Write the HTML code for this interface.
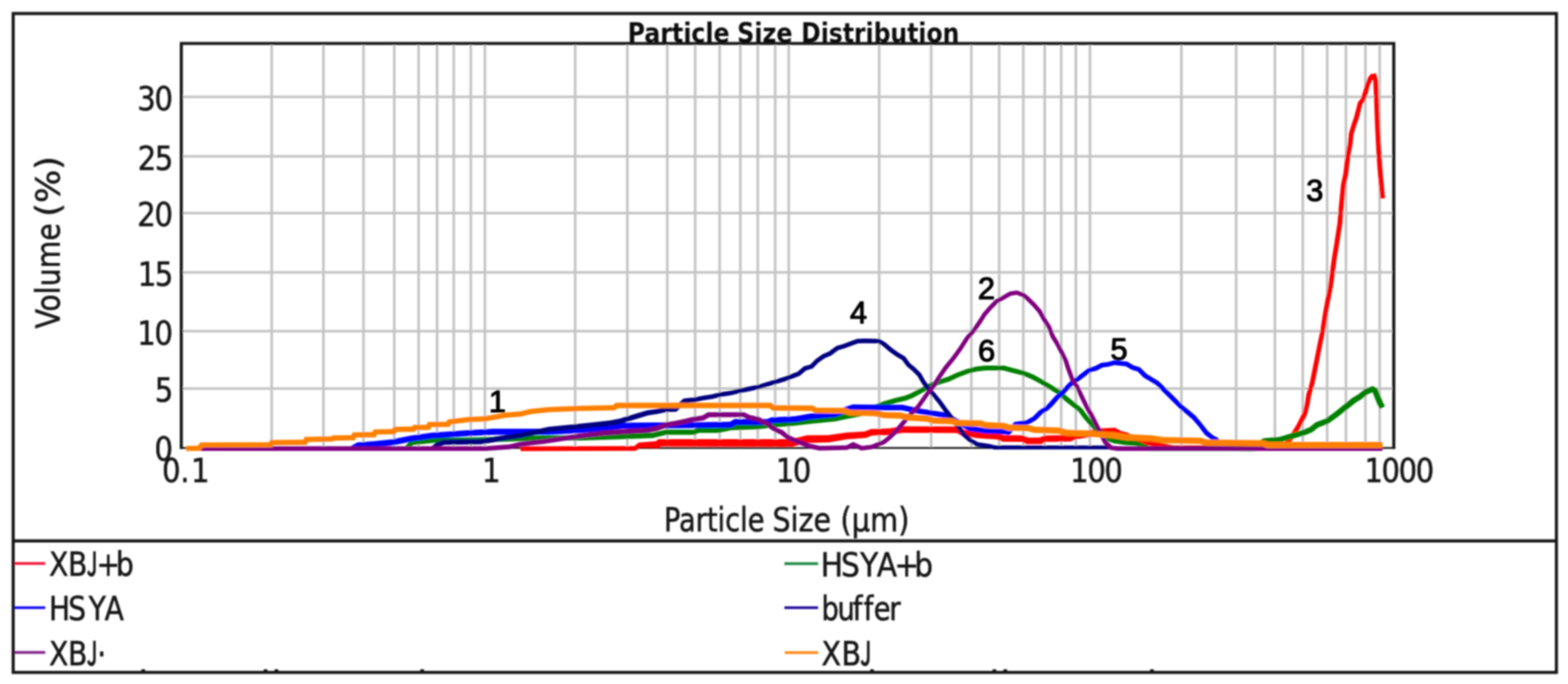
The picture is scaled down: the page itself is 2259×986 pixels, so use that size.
<!DOCTYPE html>
<html lang="en"><head><meta charset="utf-8">
<title>Particle Size Distribution</title>
<style>
html,body{margin:0;padding:0;background:#fff;}
body{width:2259px;height:986px;overflow:hidden;}
svg{display:block;}
.t{font-family:"DejaVu Sans Condensed","DejaVu Sans","Liberation Sans",sans-serif;font-stretch:condensed;fill:#161616;stroke:#161616;stroke-width:0.7px;}
.tb{font-family:"DejaVu Sans Condensed","DejaVu Sans","Liberation Sans",sans-serif;font-stretch:condensed;font-weight:bold;fill:#0c0c0c;}
.n{font-family:"Liberation Sans",sans-serif;font-weight:normal;fill:#050505;stroke:#050505;stroke-width:1.5px;stroke-linejoin:round;}
.c{fill:none;stroke-linejoin:round;stroke-linecap:butt;}
</style></head><body>
<svg width="2259" height="986" viewBox="0 0 2259 986">
<defs><filter id="soft" x="0" y="0" width="2259" height="986" filterUnits="userSpaceOnUse"><feGaussianBlur stdDeviation="1.15"/></filter></defs>
<rect x="0" y="0" width="2259" height="986" fill="#ffffff"/>
<g filter="url(#soft)">
<g stroke="#c5c5c5" stroke-width="3.8" fill="none">
<line x1="391.4" y1="62.6" x2="391.4" y2="645.6"/>
<line x1="466.0" y1="62.6" x2="466.0" y2="645.6"/>
<line x1="523.7" y1="62.6" x2="523.7" y2="645.6"/>
<line x1="568.0" y1="62.6" x2="568.0" y2="645.6"/>
<line x1="603.1" y1="62.6" x2="603.1" y2="645.6"/>
<line x1="629.7" y1="62.6" x2="629.7" y2="645.6"/>
<line x1="653.7" y1="62.6" x2="653.7" y2="645.6"/>
<line x1="678.3" y1="62.6" x2="678.3" y2="645.6"/>
<line x1="698.6" y1="62.6" x2="698.6" y2="645.6"/>
<line x1="828.6" y1="62.6" x2="828.6" y2="645.6"/>
<line x1="903.8" y1="62.6" x2="903.8" y2="645.6"/>
<line x1="961.4" y1="62.6" x2="961.4" y2="645.6"/>
<line x1="1001.5" y1="62.6" x2="1001.5" y2="645.6"/>
<line x1="1036.8" y1="62.6" x2="1036.8" y2="645.6"/>
<line x1="1066.6" y1="62.6" x2="1066.6" y2="645.6"/>
<line x1="1091.7" y1="62.6" x2="1091.7" y2="645.6"/>
<line x1="1116.8" y1="62.6" x2="1116.8" y2="645.6"/>
<line x1="1136.3" y1="62.6" x2="1136.3" y2="645.6"/>
<line x1="1266.6" y1="62.6" x2="1266.6" y2="645.6"/>
<line x1="1341.5" y1="62.6" x2="1341.5" y2="645.6"/>
<line x1="1399.4" y1="62.6" x2="1399.4" y2="645.6"/>
<line x1="1439.5" y1="62.6" x2="1439.5" y2="645.6"/>
<line x1="1474.3" y1="62.6" x2="1474.3" y2="645.6"/>
<line x1="1505.1" y1="62.6" x2="1505.1" y2="645.6"/>
<line x1="1528.9" y1="62.6" x2="1528.9" y2="645.6"/>
<line x1="1550.0" y1="62.6" x2="1550.0" y2="645.6"/>
<line x1="1570.3" y1="62.6" x2="1570.3" y2="645.6"/>
<line x1="1702.0" y1="62.6" x2="1702.0" y2="645.6"/>
<line x1="1780.9" y1="62.6" x2="1780.9" y2="645.6"/>
<line x1="1836.8" y1="62.6" x2="1836.8" y2="645.6"/>
<line x1="1876.9" y1="62.6" x2="1876.9" y2="645.6"/>
<line x1="1912.0" y1="62.6" x2="1912.0" y2="645.6"/>
<line x1="1939.1" y1="62.6" x2="1939.1" y2="645.6"/>
<line x1="1967.1" y1="62.6" x2="1967.1" y2="645.6"/>
<line x1="1987.7" y1="62.6" x2="1987.7" y2="645.6"/>
<line x1="261.2" y1="139.7" x2="2008.0" y2="139.7"/>
<line x1="261.2" y1="225.4" x2="2008.0" y2="225.4"/>
<line x1="261.2" y1="307.1" x2="2008.0" y2="307.1"/>
<line x1="261.2" y1="392.6" x2="2008.0" y2="392.6"/>
<line x1="261.2" y1="477.3" x2="2008.0" y2="477.3"/>
<line x1="261.2" y1="560.1" x2="2008.0" y2="560.1"/>
</g>
<line x1="259.0" y1="645.8" x2="2010.2" y2="645.8" stroke="#101010" stroke-width="2.6"/>
<text class="tb" aria-label="Particle Size Distribution" y="61.4" font-size="38.6"><tspan x="904.26" textLength="146.86" lengthAdjust="spacingAndGlyphs">Particle</tspan> <tspan x="1061.91" textLength="80.03" lengthAdjust="spacingAndGlyphs">Size</tspan> <tspan x="1154.36" textLength="227.69" lengthAdjust="spacingAndGlyphs">Distribution</tspan></text>
<path d="M261.2,647.2 L261.2,62.6 L2008.0,62.6 L2008.0,647.2" stroke="#161616" fill="none" stroke-width="4.4" stroke-linejoin="miter"/>
<g fill="#ff0000" stroke="#ff0000">
<path d="M750.0,650.2 L916.2,649.8 L922.5,645.3 L948.0,645.9 L952.0,643.5 L1140.9,643.9 L1163.9,638.4 L1194.0,637.7 L1220.7,633.3 L1247.9,631.3 L1256.7,627.8 L1282.8,626.9 L1300.5,624.0 L1378.5,624.2 L1386.0,628.6 L1409.5,631.7 L1435.6,633.6 L1444.7,636.7 L1471.4,637.0 L1479.3,640.2 L1500.1,640.2 L1506.6,637.1 L1541.9,636.4 L1550.3,633.2 L1588.0,626.9 L1604.2,626.0 L1612.7,630.0 L1621.7,631.4 L1629.9,635.4 L1639.5,640.8 L1658.0,642.6 L1666.6,644.2 L1689.6,649.0 L1846.1,648.9 L1857.5,640.4 L1864.9,630.3 L1873.8,615.9 L1883.0,597.7 L1886.7,583.0 L1888.9,569.8 L1893.6,553.7 L1897.7,533.7 L1901.5,513.8 L1905.5,493.8 L1908.8,477.8 L1911.6,460.4 L1913.7,446.6 L1916.2,433.5 L1920.2,413.6 L1922.9,393.6 L1925.6,373.6 L1928.9,353.7 L1931.5,336.4 L1933.7,322.4 L1934.9,306.6 L1936.8,286.7 L1938.8,266.9 L1942.2,251.1 L1944.2,233.6 L1946.1,220.5 L1948.6,207.5 L1950.0,193.6 L1953.9,180.7 L1957.3,171.3 L1960.0,160.5 L1962.5,150.6 L1966.3,145.4 L1970.5,134.1 L1973.2,123.6 L1976.3,116.2 L1978.5,113.1 L1977.4,113.2 L1978.4,116.6 L1979.0,128.2 L1979.9,150.1 L1980.9,178.1 L1982.0,200.2 L1983.0,220.2 L1984.4,240.3 L1985.9,258.3 L1987.2,272.3 L1988.6,286.3 L1995.4,285.7 L1994.0,271.7 L1992.7,257.7 L1991.2,239.7 L1989.8,219.8 L1988.8,199.8 L1987.7,177.9 L1986.7,149.9 L1985.8,127.8 L1985.2,115.4 L1982.4,105.8 L1974.7,106.7 L1970.3,112.8 L1966.8,121.4 L1964.1,132.1 L1960.3,142.2 L1956.3,147.6 L1953.4,158.9 L1950.7,169.3 L1947.5,178.5 L1943.4,192.2 L1941.8,206.5 L1939.3,219.3 L1937.4,232.8 L1935.4,249.9 L1932.0,265.9 L1930.0,286.1 L1928.1,306.0 L1926.9,321.6 L1924.7,335.4 L1922.1,352.7 L1918.8,372.6 L1916.1,392.6 L1913.4,412.4 L1909.6,432.3 L1907.1,445.4 L1904.8,459.4 L1902.2,476.6 L1898.9,492.4 L1894.9,512.4 L1890.9,532.3 L1887.0,552.1 L1882.1,568.2 L1879.9,581.6 L1876.4,595.3 L1867.8,612.5 L1859.1,626.5 L1852.5,635.6 L1843.9,642.1 L1690.4,642.0 L1668.0,637.4 L1659.0,635.6 L1641.9,633.8 L1633.7,628.6 L1624.3,623.6 L1615.5,621.6 L1606.2,616.6 L1587.0,617.5 L1547.7,624.0 L1540.1,627.0 L1504.4,627.7 L1497.9,630.8 L1481.1,630.8 L1473.4,627.6 L1446.3,627.3 L1437.6,624.2 L1410.5,622.3 L1389.2,619.4 L1381.1,614.8 L1299.7,614.4 L1281.8,617.5 L1254.7,618.4 L1245.7,621.9 L1219.7,623.5 L1193.2,627.3 L1162.5,627.6 L1139.7,632.9 L948.8,632.9 L944.8,635.9 L919.9,637.9 L913.8,643.0 L750.0,643.4Z" stroke="none"/>
<path class="c" stroke-width="5.58" d="M750.0,646.8 L915.0,646.4 L921.2,641.6 L946.4,640.9 L950.4,638.2 L1140.3,638.4 L1163.2,633.0 L1193.6,632.5 L1220.2,628.4 L1246.8,626.6 L1255.7,623.1 L1282.3,622.2 L1300.1,619.2 L1379.8,619.5 L1387.6,624.0 L1410.0,627.0 L1436.6,628.9 L1445.5,632.0 L1472.4,632.3 L1480.2,635.5 L1499.0,635.5 L1505.5,632.4 L1541.0,631.7 L1549.0,628.6 L1587.5,622.2 L1605.2,621.3 L1614.1,625.8 L1623.0,627.5 L1631.8,632.0 L1640.7,637.3 L1658.5,639.1 L1667.3,640.8 L1690.0,645.5 L1845.0,645.5 L1855.0,638.0 L1862.0,628.4 L1870.8,614.2 L1879.7,596.5 L1883.3,582.3 L1885.5,569.0 L1890.3,552.9 L1894.3,533.0 L1898.2,513.1 L1902.2,493.1 L1905.5,477.2 L1908.2,459.9 L1910.4,446.0 L1912.9,432.9 L1916.8,413.0 L1919.5,393.1 L1922.2,373.1 L1925.5,353.2 L1928.1,335.9 L1930.3,322.0 L1931.5,306.3 L1933.4,286.4 L1935.4,266.4 L1938.8,250.5 L1940.8,233.2 L1942.7,219.9 L1945.2,207.0 L1946.7,192.9 L1950.7,179.6 L1954.0,170.3 L1956.7,159.7 L1959.4,149.1 L1963.3,143.8 L1967.3,133.1 L1970.0,122.5 L1973.3,114.5 L1976.6,109.9 L1979.9,109.5 L1981.8,116.0 L1982.4,128.0 L1983.3,150.0 L1984.3,178.0 L1985.4,200.0 L1986.4,220.0 L1987.8,240.0 L1989.3,258.0 L1990.6,272.0 L1992.0,286.0"/>
</g>
<g fill="#008000" stroke="#008000">
<path d="M588.9,648.9 L594.9,641.6 L631.0,637.8 L639.8,638.7 L693.3,637.8 L750.1,636.0 L782.1,635.1 L835.3,635.1 L886.7,633.4 L940.3,631.4 L960.1,626.8 L1000.3,626.8 L1006.9,624.1 L1035.8,624.1 L1053.2,620.2 L1092.9,618.8 L1112.9,616.2 L1146.1,613.5 L1167.4,610.9 L1203.1,607.4 L1220.9,603.7 L1239.1,600.2 L1274.6,585.8 L1292.1,580.4 L1305.0,577.4 L1314.8,573.7 L1328.3,566.4 L1341.4,559.1 L1354.3,553.9 L1367.6,549.9 L1381.0,543.7 L1394.1,538.8 L1407.0,535.4 L1419.8,533.9 L1445.6,533.9 L1457.6,537.2 L1472.9,541.1 L1486.5,546.7 L1499.1,553.5 L1512.7,561.8 L1523.5,568.3 L1534.2,577.9 L1545.4,586.7 L1554.0,593.6 L1560.3,602.2 L1568.4,611.8 L1576.2,620.4 L1595.9,636.0 L1604.4,638.9 L1622.6,641.7 L1636.4,642.6 L1646.7,646.8 L1655.3,650.2 L1807.3,650.4 L1815.2,644.0 L1822.5,639.2 L1844.9,637.6 L1863.2,632.3 L1881.1,627.0 L1890.7,623.1 L1899.6,616.0 L1913.7,610.8 L1926.6,601.6 L1935.5,594.4 L1944.4,587.4 L1953.1,580.4 L1962.0,575.0 L1970.6,568.2 L1977.1,565.6 L1977.6,565.8 L1980.5,573.2 L1984.2,582.2 L1987.7,589.5 L1995.3,585.7 L1991.8,578.8 L1988.3,570.0 L1984.2,559.8 L1977.5,556.4 L1966.4,560.8 L1957.2,568.2 L1948.3,573.6 L1939.2,580.8 L1930.3,588.0 L1921.6,595.0 L1909.7,603.4 L1895.4,608.8 L1886.5,615.9 L1878.3,619.2 L1860.8,624.5 L1843.5,629.8 L1819.9,631.8 L1810.8,638.0 L1804.7,643.1 L1656.7,643.2 L1649.3,640.2 L1638.0,635.6 L1623.4,634.7 L1606.0,632.1 L1599.3,629.8 L1581.0,615.2 L1573.6,607.2 L1565.7,597.8 L1559.0,588.8 L1549.8,581.3 L1538.8,572.5 L1527.7,562.7 L1516.3,555.8 L1502.5,547.5 L1489.5,540.3 L1475.1,534.5 L1459.4,530.4 L1446.6,526.9 L1419.4,526.9 L1405.6,528.6 L1391.9,532.2 L1378.4,537.3 L1365.2,543.3 L1351.9,547.3 L1338.4,552.7 L1324.9,560.2 L1311.8,567.3 L1303.0,570.6 L1290.3,573.6 L1272.2,578.8 L1236.9,592.8 L1219.5,596.3 L1201.9,599.8 L1166.6,603.3 L1145.3,605.9 L1112.1,608.6 L1092.3,611.2 L1052.2,612.6 L1035.0,616.5 L1005.5,616.5 L998.9,619.2 L959.3,619.2 L939.3,623.8 L886.5,625.8 L835.1,627.5 L781.9,627.5 L749.9,628.4 L693.1,630.2 L640.2,631.1 L631.0,630.2 L591.1,634.4 L583.1,644.1Z" stroke="none"/>
<path class="c" stroke-width="5.74" d="M586.0,646.5 L593.0,638.0 L631.0,634.0 L640.0,634.9 L693.2,634.0 L750.0,632.2 L782.0,631.3 L835.2,631.3 L886.6,629.6 L939.8,627.6 L959.7,623.0 L999.6,623.0 L1006.2,620.3 L1035.4,620.3 L1052.7,616.4 L1092.6,615.0 L1112.5,612.4 L1145.7,609.7 L1167.0,607.1 L1202.5,603.6 L1220.2,600.0 L1238.0,596.5 L1273.4,582.3 L1291.2,577.0 L1304.0,574.0 L1313.3,570.5 L1326.6,563.3 L1339.9,555.9 L1353.1,550.6 L1366.4,546.6 L1379.7,540.5 L1393.0,535.5 L1406.3,532.0 L1419.6,530.4 L1446.1,530.4 L1458.5,533.8 L1474.0,537.8 L1488.0,543.5 L1500.8,550.5 L1514.5,558.8 L1525.6,565.5 L1536.5,575.2 L1547.6,584.0 L1556.5,591.2 L1563.0,600.0 L1571.0,609.5 L1578.6,617.8 L1597.6,632.9 L1605.2,635.5 L1623.0,638.2 L1637.2,639.1 L1648.0,643.5 L1656.0,646.7 L1806.0,646.7 L1813.0,641.0 L1821.2,635.5 L1844.2,633.7 L1862.0,628.4 L1879.7,623.1 L1888.6,619.5 L1897.5,612.4 L1911.7,607.1 L1924.1,598.3 L1932.9,591.2 L1941.8,584.1 L1950.7,577.0 L1959.6,571.6 L1968.5,564.5 L1977.3,561.0 L1980.9,562.8 L1984.4,571.6 L1988.0,580.5 L1991.5,587.6"/>
</g>
<g fill="#0000ff" stroke="#0000ff">
<path d="M510.1,650.3 L517.3,646.3 L539.4,644.6 L566.2,641.9 L592.9,636.6 L624.4,632.1 L640.3,631.2 L675.8,628.5 L711.1,626.7 L790.9,626.7 L835.3,624.3 L871.2,621.4 L897.6,617.9 L993.0,617.3 L1053.9,616.7 L1060.6,612.7 L1106.7,612.7 L1113.4,610.0 L1146.2,608.7 L1167.6,604.8 L1203.5,601.6 L1221.7,594.3 L1229.8,591.4 L1299.6,591.4 L1312.5,594.2 L1325.9,596.9 L1339.3,599.0 L1358.6,602.2 L1369.4,607.1 L1396.5,621.6 L1419.3,624.9 L1439.2,625.5 L1454.3,627.0 L1465.1,615.0 L1481.1,612.3 L1492.6,605.7 L1500.9,597.4 L1509.7,591.7 L1517.0,584.9 L1524.7,575.9 L1532.4,569.2 L1540.2,560.9 L1547.7,553.2 L1554.1,549.5 L1565.0,541.2 L1571.2,536.6 L1580.1,534.2 L1588.5,529.7 L1597.0,528.6 L1605.5,526.2 L1621.9,527.9 L1630.4,533.0 L1638.9,535.6 L1647.5,544.2 L1656.8,549.7 L1665.2,554.8 L1673.8,563.4 L1682.7,572.3 L1691.5,581.1 L1700.5,590.1 L1709.5,597.3 L1717.9,604.4 L1726.6,614.6 L1735.6,626.4 L1745.2,634.0 L1749.8,636.2 L1754.4,642.2 L1760.5,649.0 L1765.5,644.4 L1759.6,637.8 L1754.2,630.8 L1748.8,628.2 L1740.4,621.6 L1731.8,610.4 L1722.7,599.6 L1713.9,592.1 L1705.1,585.1 L1696.3,576.3 L1687.5,567.5 L1678.6,558.6 L1669.4,549.4 L1660.2,543.9 L1651.7,538.8 L1642.5,529.6 L1633.2,526.8 L1624.1,521.3 L1604.9,519.4 L1595.6,522.0 L1586.5,523.1 L1577.5,527.8 L1568.2,530.4 L1561.0,535.8 L1550.3,543.9 L1543.5,547.8 L1535.4,556.1 L1527.6,564.2 L1519.9,571.1 L1512.0,580.1 L1505.5,586.3 L1496.5,592.0 L1488.4,600.3 L1478.9,605.7 L1461.5,608.2 L1451.3,619.0 L1439.8,617.7 L1419.9,617.1 L1398.9,614.0 L1372.8,600.1 L1361.0,594.6 L1340.5,591.2 L1327.3,589.3 L1314.1,586.6 L1300.4,583.6 L1228.4,583.0 L1218.7,586.3 L1201.5,593.2 L1166.4,596.2 L1145.2,600.1 L1111.6,601.4 L1105.1,604.1 L1058.2,604.1 L1051.5,608.1 L993.0,608.7 L897.0,609.3 L870.2,612.8 L834.7,615.7 L790.7,618.1 L710.9,618.1 L675.2,619.9 L639.7,622.6 L623.6,623.5 L591.5,628.0 L565.0,633.3 L538.6,636.0 L514.7,637.7 L505.9,642.7Z" stroke="none"/>
<path class="c" stroke-width="5.58" d="M508.0,646.5 L516.0,642.0 L539.0,640.3 L565.6,637.6 L592.2,632.3 L624.0,627.8 L640.0,626.9 L675.5,624.2 L711.0,622.4 L790.8,622.4 L835.0,620.0 L870.7,617.1 L897.3,613.6 L993.0,613.0 L1052.7,612.4 L1059.4,608.4 L1105.9,608.4 L1112.5,605.7 L1145.7,604.4 L1167.0,600.5 L1202.5,597.4 L1220.2,590.3 L1229.1,587.2 L1300.0,587.5 L1313.3,590.4 L1326.6,593.1 L1339.9,595.1 L1359.8,598.4 L1371.1,603.6 L1397.7,617.8 L1419.6,621.0 L1439.5,621.6 L1452.8,623.0 L1463.3,611.6 L1480.0,609.0 L1490.5,603.0 L1498.7,594.7 L1507.6,589.0 L1514.5,582.5 L1522.3,573.5 L1530.0,566.7 L1537.8,558.5 L1545.6,550.5 L1552.2,546.7 L1563.0,538.5 L1569.7,533.5 L1578.8,531.0 L1587.5,526.4 L1596.3,525.3 L1605.2,522.8 L1623.0,524.6 L1631.8,529.9 L1640.7,532.6 L1649.6,541.5 L1658.5,546.8 L1667.3,552.1 L1676.2,561.0 L1685.1,569.9 L1693.9,578.7 L1702.8,587.6 L1711.7,594.7 L1720.3,602.0 L1729.2,612.5 L1738.0,624.0 L1747.0,631.1 L1752.0,633.5 L1757.0,640.0 L1763.0,646.7"/>
</g>
<g fill="#000080" stroke="#000080">
<path d="M626.5,649.4 L632.9,643.8 L640.6,641.3 L693.5,640.4 L720.5,635.9 L750.7,631.5 L791.4,622.6 L826.7,619.1 L853.4,616.4 L880.6,613.4 L894.2,610.7 L907.7,606.7 L921.0,602.7 L933.9,598.7 L947.0,596.7 L960.2,594.1 L974.5,593.4 L987.8,581.2 L1000.1,579.9 L1013.5,577.1 L1026.8,575.1 L1040.1,571.8 L1053.4,569.8 L1066.7,566.5 L1080.0,563.9 L1093.4,561.1 L1106.9,557.1 L1120.1,553.1 L1133.5,549.0 L1141.1,546.0 L1152.2,541.8 L1161.4,534.0 L1170.8,531.2 L1179.2,522.8 L1188.0,516.6 L1197.4,512.6 L1207.8,504.7 L1216.6,502.2 L1227.3,498.2 L1236.1,495.0 L1246.1,494.7 L1265.2,495.0 L1272.1,499.1 L1281.3,507.0 L1290.8,513.7 L1299.7,518.9 L1306.2,527.9 L1314.4,534.7 L1321.9,542.3 L1327.1,551.3 L1333.0,560.0 L1342.0,570.2 L1350.8,580.7 L1359.6,593.1 L1365.5,600.5 L1377.3,616.1 L1386.4,628.8 L1395.8,637.1 L1407.0,643.5 L1424.4,645.9 L1432.6,647.9 L1600.0,647.8 L1600.0,642.2 L1433.4,642.1 L1425.6,640.1 L1409.0,637.5 L1399.6,631.9 L1391.2,624.4 L1382.5,612.3 L1370.5,596.5 L1364.8,589.3 L1355.8,576.7 L1346.8,566.0 L1338.2,556.0 L1332.5,547.9 L1327.1,538.3 L1318.8,529.9 L1311.0,523.5 L1304.1,513.9 L1294.4,508.3 L1285.3,501.8 L1275.9,493.7 L1267.0,488.6 L1246.1,488.1 L1234.9,488.6 L1225.1,492.0 L1214.6,496.0 L1204.8,498.7 L1194.0,506.8 L1184.8,510.8 L1175.0,517.8 L1167.4,525.4 L1158.2,528.0 L1148.8,536.0 L1138.7,539.8 L1131.3,542.8 L1118.1,546.7 L1104.9,550.7 L1091.8,554.7 L1078.6,557.3 L1065.3,559.9 L1052.0,563.2 L1038.7,565.2 L1025.4,568.5 L1012.3,570.5 L999.1,573.1 L984.8,574.4 L971.5,586.2 L959.2,586.7 L945.8,589.5 L932.3,591.5 L918.8,595.5 L905.5,599.5 L892.4,603.5 L879.4,606.0 L852.6,609.0 L825.9,611.7 L790.2,615.2 L749.3,624.1 L719.3,628.5 L692.9,632.8 L639.4,633.7 L629.1,637.2 L621.5,643.6Z" stroke="none"/>
<path class="c" stroke-width="4.59" d="M624.0,646.5 L631.0,640.5 L640.0,637.5 L693.2,636.6 L719.9,632.2 L750.0,627.8 L790.8,618.9 L826.3,615.4 L853.0,612.7 L880.0,609.7 L893.3,607.1 L906.6,603.1 L919.9,599.1 L933.1,595.1 L946.4,593.1 L959.7,590.4 L973.0,589.8 L986.3,577.8 L999.6,576.5 L1012.9,573.8 L1026.1,571.8 L1039.4,568.5 L1052.7,566.5 L1066.0,563.2 L1079.3,560.6 L1092.6,557.9 L1105.9,553.9 L1119.1,549.9 L1132.4,545.9 L1139.9,542.9 L1150.5,538.9 L1159.8,531.0 L1169.1,528.3 L1177.1,520.3 L1186.4,513.7 L1195.7,509.7 L1206.3,501.7 L1215.6,499.1 L1226.2,495.1 L1235.5,491.8 L1246.1,491.4 L1266.1,491.8 L1274.0,496.4 L1283.3,504.4 L1292.6,511.0 L1301.9,516.4 L1308.6,525.7 L1316.6,532.3 L1324.5,540.3 L1329.8,549.6 L1335.6,558.0 L1344.4,568.1 L1353.3,578.7 L1362.2,591.2 L1368.0,598.5 L1379.9,614.2 L1388.8,626.6 L1397.7,634.5 L1408.0,640.5 L1425.0,643.0 L1433.0,645.0 L1600.0,645.0"/>
</g>
<g fill="#800080" stroke="#800080">
<path d="M288.5,650.1 L700.1,650.0 L735.5,647.4 L750.6,643.6 L782.5,640.1 L810.9,635.7 L835.7,632.3 L871.1,627.9 L906.8,625.5 L933.6,624.0 L947.5,621.3 L960.7,616.0 L973.6,614.0 L987.1,611.3 L1000.3,608.0 L1014.1,605.9 L1021.8,601.4 L1070.5,601.3 L1078.2,605.1 L1091.3,607.7 L1097.6,611.6 L1104.1,614.1 L1110.5,619.3 L1117.6,623.4 L1124.0,626.0 L1130.4,631.1 L1137.6,635.4 L1151.1,640.8 L1164.6,646.2 L1180.9,649.6 L1221.0,648.6 L1229.2,644.5 L1241.0,649.6 L1256.5,647.6 L1275.0,640.1 L1284.4,632.6 L1293.5,623.5 L1304.2,611.0 L1314.8,598.6 L1325.5,587.8 L1338.1,570.0 L1347.0,559.2 L1355.9,544.9 L1364.9,531.9 L1375.7,518.8 L1386.4,504.1 L1395.6,489.6 L1404.9,479.0 L1414.3,465.5 L1420.9,455.0 L1428.7,445.9 L1437.6,437.0 L1447.9,431.3 L1456.6,426.2 L1464.6,425.1 L1472.6,428.0 L1478.7,432.9 L1487.8,442.0 L1495.5,451.0 L1502.0,462.7 L1508.6,473.1 L1513.9,486.4 L1520.6,497.2 L1527.2,510.3 L1532.4,520.8 L1536.3,533.0 L1543.0,550.7 L1549.5,559.6 L1556.3,574.5 L1562.9,587.9 L1569.6,599.9 L1576.2,612.9 L1580.6,621.9 L1589.7,639.5 L1599.5,648.6 L1609.8,650.1 L1991.5,650.1 L1991.5,643.3 L1610.2,643.3 L1602.5,642.4 L1594.9,635.5 L1586.2,619.1 L1581.8,610.1 L1575.2,596.9 L1568.5,584.9 L1561.9,571.7 L1554.9,556.4 L1548.6,547.7 L1542.3,531.0 L1538.2,518.4 L1532.8,507.5 L1526.0,494.2 L1519.5,483.6 L1514.2,470.3 L1507.4,459.5 L1500.7,447.4 L1492.4,437.8 L1482.9,428.3 L1475.8,422.4 L1465.2,418.7 L1454.6,420.2 L1444.7,425.9 L1433.8,432.0 L1424.1,441.7 L1415.9,451.2 L1409.1,462.1 L1399.9,475.2 L1390.6,485.8 L1381.2,500.5 L1370.7,515.0 L1359.9,528.1 L1350.7,541.5 L1341.8,555.6 L1333.1,566.2 L1320.7,583.8 L1310.2,594.4 L1299.4,606.8 L1288.9,619.1 L1280.2,627.8 L1271.8,634.5 L1254.9,641.2 L1242.0,642.8 L1229.0,637.1 L1219.4,642.0 L1181.5,642.8 L1166.6,639.6 L1153.7,634.4 L1140.6,629.2 L1134.4,625.5 L1127.6,620.0 L1120.6,617.2 L1114.5,613.5 L1107.7,607.9 L1100.8,605.2 L1093.9,601.1 L1080.4,598.3 L1072.1,594.3 L1019.8,594.2 L1011.7,598.9 L998.9,600.8 L985.5,604.1 L972.4,606.8 L958.7,608.8 L945.3,614.1 L932.6,616.6 L906.4,617.9 L870.3,620.5 L834.7,625.1 L809.9,628.7 L781.5,633.1 L749.4,636.8 L734.5,640.6 L699.9,643.2 L288.5,643.3Z" stroke="none"/>
<path class="c" stroke-width="5.17" d="M288.5,646.7 L700.0,646.6 L735.0,644.0 L750.0,640.2 L782.0,636.6 L810.4,632.2 L835.2,628.7 L870.7,624.2 L906.6,621.7 L933.1,620.3 L946.4,617.7 L959.7,612.4 L973.0,610.4 L986.3,607.7 L999.6,604.4 L1012.9,602.4 L1020.8,597.8 L1071.3,597.8 L1079.3,601.7 L1092.6,604.4 L1099.2,608.4 L1105.9,611.0 L1112.5,616.4 L1119.1,620.3 L1125.8,623.0 L1132.4,628.3 L1139.1,632.3 L1152.4,637.6 L1165.6,642.9 L1181.2,646.2 L1220.2,645.3 L1229.1,640.8 L1241.5,646.2 L1255.7,644.4 L1273.4,637.3 L1282.3,630.2 L1291.2,621.3 L1301.8,608.9 L1312.5,596.5 L1323.1,585.8 L1335.6,568.1 L1344.4,557.4 L1353.3,543.2 L1362.4,530.0 L1373.2,516.9 L1383.8,502.3 L1393.1,487.7 L1402.4,477.1 L1411.7,463.8 L1418.4,453.1 L1426.4,443.8 L1435.7,434.5 L1446.3,428.6 L1455.6,423.2 L1464.9,421.9 L1474.2,425.2 L1480.8,430.6 L1490.1,439.9 L1498.1,449.2 L1504.7,461.1 L1511.4,471.7 L1516.7,485.0 L1523.3,495.7 L1530.0,508.9 L1535.3,519.6 L1539.3,532.0 L1545.8,549.2 L1552.2,558.0 L1559.1,573.1 L1565.7,586.4 L1572.4,598.4 L1579.0,611.5 L1583.4,620.5 L1592.3,637.5 L1601.0,645.5 L1610.0,646.7 L1991.5,646.7"/>
</g>
<g fill="#ff8000" stroke="#ff8000">
<path d="M268.4,650.2 L288.9,649.8 L292.4,645.2 L392.2,645.0 L393.9,641.7 L442.1,641.4 L443.8,637.2 L479.9,636.6 L481.7,635.2 L511.3,634.8 L513.0,630.8 L541.3,630.4 L543.1,626.4 L569.5,626.0 L571.3,622.8 L597.6,622.4 L599.4,620.1 L619.5,619.8 L621.3,615.8 L647.7,615.5 L649.6,611.8 L675.8,608.5 L699.0,607.6 L729.2,602.3 L750.6,600.5 L764.9,597.0 L791.1,594.3 L835.3,592.5 L886.5,591.6 L889.9,588.4 L1108.3,588.4 L1112.3,592.1 L1168.9,592.5 L1174.3,595.8 L1215.9,596.2 L1223.0,598.9 L1260.5,599.9 L1272.9,602.7 L1295.9,603.6 L1308.3,606.3 L1334.8,608.1 L1343.7,610.7 L1370.3,611.6 L1379.2,614.3 L1412.0,615.0 L1418.7,617.5 L1445.2,618.5 L1451.9,621.0 L1480.3,621.5 L1489.2,624.0 L1524.8,625.2 L1535.2,628.5 L1569.4,629.5 L1587.2,631.0 L1604.7,632.0 L1622.5,634.7 L1658.1,636.5 L1675.8,639.1 L1728.6,640.0 L1737.0,642.8 L1818.6,643.7 L1825.7,646.3 L1991.5,646.3 L1991.5,637.1 L1827.3,637.1 L1820.2,634.5 L1738.4,633.6 L1730.2,631.0 L1676.6,630.1 L1658.9,627.5 L1623.5,625.7 L1605.7,623.0 L1587.8,622.0 L1570.0,620.5 L1536.8,619.5 L1526.4,616.2 L1490.6,615.0 L1481.7,612.5 L1453.7,612.0 L1447.0,609.5 L1420.5,608.5 L1413.8,606.0 L1380.6,605.3 L1371.9,602.6 L1345.1,601.7 L1336.4,599.1 L1309.5,597.3 L1297.1,594.6 L1273.9,593.9 L1261.5,591.3 L1224.6,590.5 L1217.5,587.8 L1176.5,587.8 L1171.1,584.5 L1115.3,584.3 L1111.3,580.6 L886.9,580.6 L883.3,584.0 L835.1,584.9 L790.5,586.7 L763.5,589.4 L749.4,592.9 L728.2,594.7 L698.2,600.0 L675.2,600.9 L644.8,604.8 L643.1,607.9 L616.3,608.2 L614.5,612.2 L595.6,612.5 L593.8,614.8 L566.9,615.2 L565.1,618.4 L538.3,619.0 L536.5,622.8 L508.0,623.2 L506.3,627.2 L479.1,627.6 L477.3,629.0 L438.8,629.8 L437.1,633.8 L389.3,634.3 L387.6,637.4 L288.6,637.8 L285.1,642.4 L268.2,642.8Z" stroke="none"/>
<path class="c" stroke-width="6.07" d="M268.3,646.5 L287.0,646.1 L290.5,641.5 L389.9,641.2 L391.6,638.0 L439.6,637.6 L441.3,633.5 L478.6,632.8 L480.4,631.4 L508.8,631.0 L510.5,627.0 L538.9,626.6 L540.7,622.7 L567.3,622.2 L569.1,619.0 L595.7,618.6 L597.5,616.3 L617.0,616.0 L618.8,612.0 L645.4,611.7 L647.2,608.3 L675.5,604.7 L698.6,603.8 L728.7,598.5 L750.0,596.7 L764.2,593.2 L790.8,590.5 L835.2,588.7 L884.9,587.8 L888.4,584.5 L1109.8,584.5 L1113.8,588.2 L1170.0,588.5 L1175.4,591.8 L1216.7,592.0 L1223.8,594.7 L1261.0,595.6 L1273.4,598.3 L1296.5,599.1 L1308.9,601.8 L1335.6,603.6 L1344.4,606.2 L1371.1,607.1 L1379.9,609.8 L1412.9,610.5 L1419.6,613.0 L1446.1,614.0 L1452.8,616.5 L1481.0,617.0 L1489.9,619.5 L1525.6,620.7 L1536.0,624.0 L1569.7,625.0 L1587.5,626.5 L1605.2,627.5 L1623.0,630.2 L1658.5,632.0 L1676.2,634.6 L1729.4,635.5 L1737.7,638.2 L1819.4,639.1 L1826.5,641.7 L1991.5,641.7"/>
</g>
<g stroke="#161616" fill="none" stroke-width="4.4">
<rect x="19.0" y="19.5" width="2223.3" height="949.8"/>
<line x1="19.0" y1="779.7" x2="2242.3" y2="779.7"/>
</g>
<g fill="#161616"><rect x="203.5" y="964.7" width="5.6" height="3.4" rx="1.2"/><rect x="379.8" y="964.7" width="5.6" height="3.4" rx="1.2"/><rect x="395.5" y="964.7" width="5.6" height="3.4" rx="1.2"/><rect x="605.4" y="964.7" width="5.6" height="3.4" rx="1.2"/><rect x="1253.5" y="964.7" width="5.6" height="3.4" rx="1.2"/><rect x="1429.8" y="964.7" width="5.6" height="3.4" rx="1.2"/><rect x="1445.5" y="964.7" width="5.6" height="3.4" rx="1.2"/><rect x="1656.8" y="964.7" width="5.6" height="3.4" rx="1.2"/></g>
<text class="t" transform="scale(0.97,1)" x="203.91 229.27" y="159.1" font-size="48">30</text>
<text class="t" transform="scale(0.97,1)" x="204.66 230.02" y="244.8" font-size="48">25</text>
<text class="t" transform="scale(0.97,1)" x="203.91 229.27" y="326.5" font-size="48">20</text>
<text class="t" transform="scale(0.97,1)" x="204.66 230.02" y="412" font-size="48">15</text>
<text class="t" transform="scale(0.97,1)" x="203.91 229.27" y="496.7" font-size="48">10</text>
<text class="t" transform="scale(0.97,1)" x="230.02" y="579.5" font-size="48">5</text>
<text class="t" transform="scale(0.97,1)" x="229.27" y="664.4" font-size="48">0</text>
<text class="t" transform="scale(0.97,1)" x="240.84 267.87 283.75" y="695.3" font-size="48">0.1</text>
<text class="t" transform="scale(0.97,1)" x="715.91" y="695.3" font-size="48">1</text>
<text class="t" transform="scale(0.97,1)" x="1152.3 1177.66" y="695.3" font-size="48">10</text>
<text class="t" transform="scale(0.97,1)" x="1589.52 1614.88 1640.24" y="695.3" font-size="48">100</text>
<text class="t" transform="scale(0.97,1)" x="2026.53 2051.89 2077.25 2102.61" y="695.3" font-size="48">1000</text>
<text class="t" aria-label="Particle Size (µm)" y="765.7" font-size="48"><tspan x="956.54" textLength="144.8" lengthAdjust="spacingAndGlyphs">Particle</tspan> <tspan x="1113.06" textLength="84.17" lengthAdjust="spacingAndGlyphs">Size</tspan> <tspan x="1210.81" textLength="99.31" lengthAdjust="spacingAndGlyphs">(µm)</tspan></text>
<g transform="translate(85.6,474.0) rotate(-90)"><text class="t" aria-label="Volume (%)" y="0" font-size="48"><tspan x="0.4" textLength="151.79" lengthAdjust="spacingAndGlyphs">Volume</tspan> <tspan x="161.49" textLength="87.54" lengthAdjust="spacingAndGlyphs">(%)</tspan></text></g>
<text class="n" x="704.22" y="594.3" font-size="44.5">1</text>
<text class="n" x="1408.71" y="431" font-size="44.5">2</text>
<text class="n" x="1881.81" y="290.4" font-size="44.5">3</text>
<text class="n" x="1224.5" y="465.9" font-size="44.5">4</text>
<text class="n" x="1599.81" y="519.2" font-size="44.5">5</text>
<text class="n" x="1409.11" y="520.9" font-size="44.5">6</text>
<line x1="21.0" y1="812.3" x2="65.2" y2="812.3" stroke="#f01a3a" stroke-width="4.0"/>
<text class="t" transform="scale(0.955,1)" aria-label="XBJ+b" x="74.03 102.6 130.85 145.52 174.85" y="830.5" font-size="47.2">XB<tspan font-family='"Noto Sans CJK SC","Liberation Sans",sans-serif' font-weight="500" textLength="16.11" lengthAdjust="spacingAndGlyphs">J</tspan>+b</text>
<line x1="21.0" y1="876.0" x2="65.2" y2="876.0" stroke="#1a12f5" stroke-width="4.0"/>
<text class="t" transform="scale(0.955,1)" x="73.8 102.92 133.72 157.8" y="893.9" font-size="47.2">HSYA</text>
<line x1="21.0" y1="940.6" x2="65.2" y2="940.6" stroke="#84208a" stroke-width="4.0"/>
<text class="t" transform="scale(0.955,1)" aria-label="XBJ·" x="74.03 102.6 130.85 146.33" y="959.4" font-size="47.2">XB<tspan font-family='"Noto Sans CJK SC","Liberation Sans",sans-serif' font-weight="500" textLength="16.11" lengthAdjust="spacingAndGlyphs">J</tspan><tspan dy="1.5" font-size="52" textLength="14.22" lengthAdjust="spacingAndGlyphs">·</tspan></text>
<line x1="1130.1" y1="812.5" x2="1178.6" y2="812.5" stroke="#1f8a42" stroke-width="4.0"/>
<text class="t" x="1182.61 1211.79 1239.24 1263.2 1288.38 1317.21" y="830.5" font-size="47.2">HSYA+b</text>
<line x1="1130.1" y1="876.0" x2="1178.6" y2="876.0" stroke="#27189c" stroke-width="4.0"/>
<text class="t" transform="scale(0.93,1)" x="1272.55 1297.27 1320.88 1337.86 1353.38 1377.71" y="893.9" font-size="47.2">buffer</text>
<line x1="1130.6" y1="940.7" x2="1178.6" y2="940.7" stroke="#ff8a1e" stroke-width="4.0"/>
<text class="t" transform="scale(0.97,1)" aria-label="XBJ" x="1220.09 1249.82 1277.47" y="959.4" font-size="47.2">XB<tspan font-family='"Noto Sans CJK SC","Liberation Sans",sans-serif' font-weight="500" textLength="16.49" lengthAdjust="spacingAndGlyphs">J</tspan></text>
</g>
</svg>
</body></html>
